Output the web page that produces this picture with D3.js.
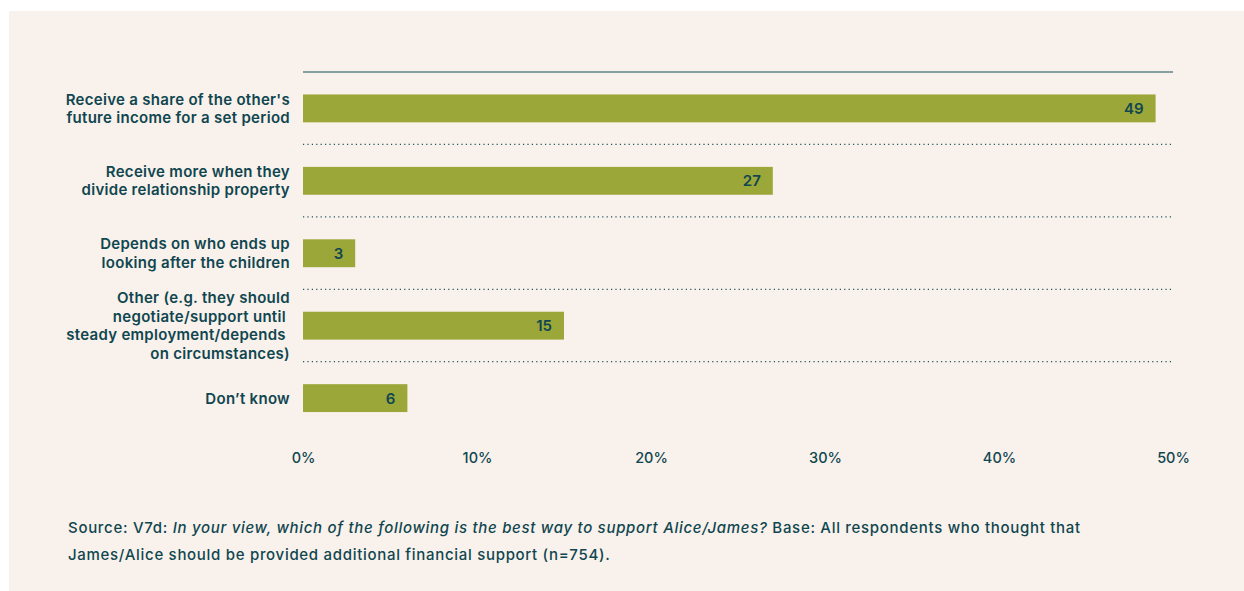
<!DOCTYPE html>
<html>
<head>
<meta charset="utf-8">
<script src="https://cdn.jsdelivr.net/npm/d3@7"></script>
<style>
  body { margin: 0; background: #ffffff; }
  svg { display: block; }
  text { font-family: Inter, "Noto Sans", sans-serif; fill: #0f4650; }
</style>
</head>
<body>
<div id="chart"></div>
<script>
// data
const categories = [
  ["Receive a share of the other's", "future income for a set period"],
  ["Receive more when they", "divide relationship property"],
  ["Depends on who ends up", "looking after the children"],
  ["Other (e.g. they should", "negotiate/support until ", "steady employment/depends ", "on circumstances)"],
  ["Don\u2019t know"]
]
const values = [49, 27, 3, 15, 6]
const ticks = [0, 10, 20, 30, 40, 50]

const W = 1244, H = 591
const margin = { left: 303, right: 71, top: 72, bottom: 156 }
const width = W - margin.left - margin.right
const height = H - margin.top - margin.bottom

const svg = d3.select('#chart')
  .append('svg')
  .attr('width', W)
  .attr('height', H)

// panel
svg.append('rect')
  .attr('x', 9).attr('y', 11)
  .attr('width', W - 9).attr('height', H - 11)
  .attr('fill', '#f9f1eb')

const g = svg.append('g')
  .attr('transform', `translate(${margin.left},${margin.top})`)

////////////////////////////////////
//////////////scales////////////////
////////////////////////////////////
const xScale = d3.scaleLinear()
  .domain([0, 50])
  .range([0, width])

const yScale = d3.scaleBand()
  .domain(d3.range(values.length))
  .range([0, 362.5])
  .paddingInner(0.615)
  .paddingOuter(0.31)

const step = yScale.step()

// top line
g.append('line')
  .attr('x1', 0).attr('x2', width)
  .attr('y1', 0).attr('y2', 0)
  .attr('stroke', '#5d8587')
  .attr('stroke-width', 1.5)

// dotted separators
g.selectAll('.sep')
  .data(d3.range(1, values.length))
  .join('line')
  .attr('class', 'sep')
  .attr('x1', 0).attr('x2', width)
  .attr('y1', i => i * step)
  .attr('y2', i => i * step)
  .attr('stroke', '#1d5560')
  .attr('stroke-width', 1.2)
  .attr('stroke-dasharray', '1.2,3.2')

// bars
g.selectAll('.bar')
  .data(values)
  .join('rect')
  .attr('class', 'bar')
  .attr('x', xScale(0))
  .attr('y', (d, i) => yScale(i))
  .attr('width', d => xScale(d) - xScale(0))
  .attr('height', yScale.bandwidth())
  .attr('fill', '#9ca73a')

// value labels
g.selectAll('.val')
  .data(values)
  .join('text')
  .attr('class', 'val')
  .attr('x', d => xScale(d) - 12)
  .attr('y', (d, i) => yScale(i) + yScale.bandwidth() / 2)
  .attr('dy', '0.36em')
  .attr('text-anchor', 'end')
  .attr('font-size', 15)
  .attr('font-weight', 600)
  .text(d => d)

// category labels
const lineH = 18.5
g.selectAll('.cat')
  .data(categories)
  .join('text')
  .attr('class', 'cat')
  .attr('text-anchor', 'end')
  .attr('font-size', 15)
  .attr('font-weight', 600)
  .attr('letter-spacing', 0.3)
  .style('white-space', 'pre')
  .each(function (lines, i) {
    const cy = yScale(i) + yScale.bandwidth() / 2
    const y0 = cy - (lines.length - 1) * lineH / 2
    d3.select(this).selectAll('tspan')
      .data(lines)
      .join('tspan')
      .attr('x', -13)
      .attr('y', (l, j) => y0 + j * lineH)
      .attr('dy', '0.36em')
      .text(l => l)
  })

// x axis
const xAxis = d3.axisBottom(xScale)
  .tickValues(ticks)
  .tickFormat(d => d + '%')
  .tickSize(0)
  .tickPadding(0)

g.append('g')
  .attr('transform', `translate(0,${381})`)
  .call(xAxis)
  .call(a => a.select('.domain').remove())
  .selectAll('text')
  .attr('font-size', 14.5)
  .attr('font-weight', 500)
  .attr('font-family', 'Inter, "Noto Sans", sans-serif')
  .attr('fill', '#0f4650')

// source note
const note = svg.append('text')
  .attr('x', 68)
  .attr('y', 533)
  .attr('font-size', 15)
  .attr('font-weight', 500)
  .attr('letter-spacing', 0.7)
note.append('tspan').text('Source: V7d: ')
note.append('tspan').attr('font-style', 'italic')
  .text('In your view, which of the following is the best way to support Alice/James?')
note.append('tspan').text(' Base: All respondents who thought that')

svg.append('text')
  .attr('x', 68)
  .attr('y', 560)
  .attr('font-size', 15)
  .attr('font-weight', 500)
  .attr('letter-spacing', 0.7)
  .text('James/Alice should be provided additional financial support (n=754).')
</script>
</body>
</html>
